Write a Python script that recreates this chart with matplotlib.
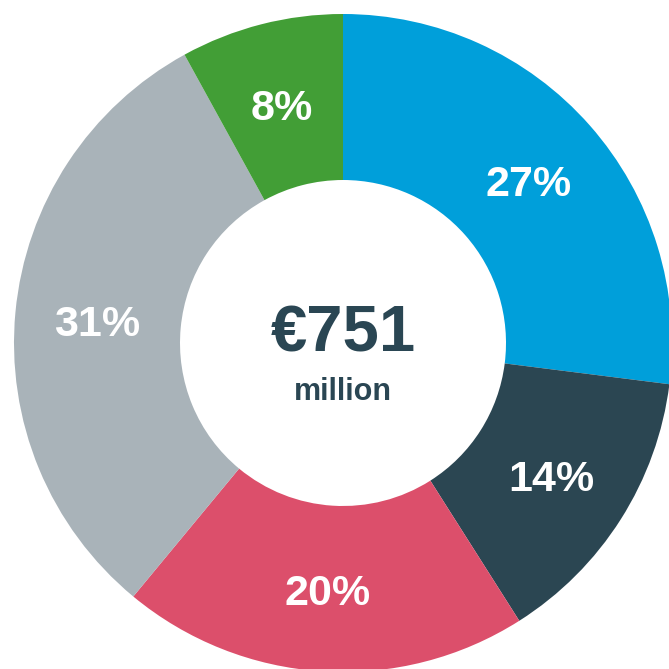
import matplotlib
matplotlib.use('Agg')
import matplotlib.pyplot as plt
from matplotlib import font_manager

# Dilim verileri (saat yönünde, tepeden başlayarak)
shares = [27, 14, 20, 31, 8]
colors = ['#009FDA', '#2B4652', '#DC4F6B', '#A9B3B9', '#429E36']
total_label = '€751'
unit_label = 'million'

plt.rcParams['font.family'] = ['Liberation Sans', 'DejaVu Sans']
names = {f.name for f in font_manager.fontManager.ttflist}
narrow = 'Liberation Sans Narrow' if 'Liberation Sans Narrow' in names else 'Liberation Sans'
print(narrow)

W = 669
fig = plt.figure(figsize=(W / 100, W / 100), dpi=100)
ax = fig.add_axes([0, 0, 1, 1])

R_OUT = 329
R_IN = 163
cx, cy = 343, W - 343

wedges, texts, autotexts = ax.pie(
    shares, colors=colors, startangle=90, counterclock=False,
    center=(cx, cy), radius=R_OUT,
    wedgeprops=dict(width=R_OUT - R_IN, linewidth=0),
    autopct=lambda p: f'{p:.0f}%', pctdistance=0.75,
    textprops=dict(color='white', fontsize=31, fontweight='bold'))
for t in autotexts:
    x, y = t.get_position()
    t.set_position((x, y - 5))

ax.text(cx, W - 335, total_label, ha='center', va='center',
        fontsize=47, fontweight='bold', color='#2A4653',
        family=[narrow, 'DejaVu Sans'])
ax.text(cx, W - 392, unit_label, ha='center', va='center',
        fontsize=22, fontweight='bold', color='#2A4653')

ax.set_xlim(0, W)
ax.set_ylim(0, W)
ax.set_aspect('equal')
ax.axis('off')

fig.savefig('out.png', dpi=100)
